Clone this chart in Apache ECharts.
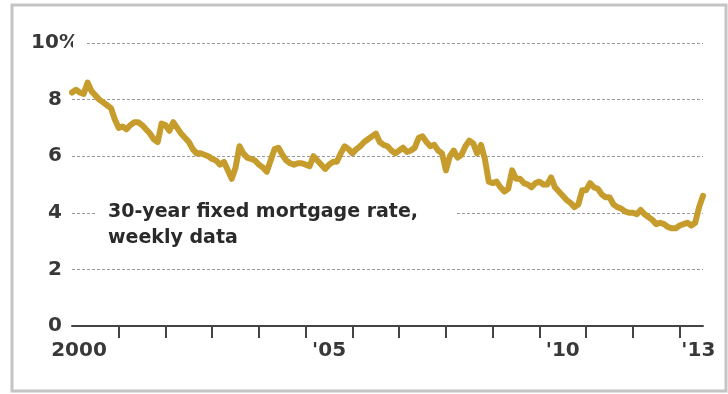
<!DOCTYPE html>
<html>
<head>
<meta charset="utf-8">
<script src="https://cdn.jsdelivr.net/npm/echarts@6/dist/echarts.min.js"></script>
<style>
html,body{margin:0;padding:0;background:#fff;}
#chart{width:728px;height:394px;}
</style>
</head>
<body>
<div id="chart"></div>
<script>
// Monthly readings of the 30-year fixed mortgage rate (%), Jan..Dec of each year
const years = [2000,2001,2002,2003,2004,2005,2006,2007,2008,2009,2010,2011,2012,2013];
const r2000 = [8.25,8.35,8.25,8.2,8.6,8.3,8.15,8.0,7.9,7.8,7.7,7.3];
const r2001 = [7.0,7.05,6.95,7.1,7.2,7.2,7.1,6.95,6.8,6.6,6.5,7.15];
const r2002 = [7.1,6.9,7.2,7.0,6.8,6.65,6.5,6.25,6.1,6.1,6.05,6.0];
const r2003 = [5.9,5.85,5.7,5.8,5.5,5.2,5.6,6.35,6.1,5.95,5.9,5.85];
const r2004 = [5.7,5.6,5.45,5.85,6.25,6.3,6.05,5.85,5.75,5.7,5.75,5.75];
const r2005 = [5.7,5.65,6.0,5.85,5.7,5.55,5.7,5.8,5.8,6.1,6.35,6.25];
const r2006 = [6.1,6.25,6.35,6.5,6.6,6.7,6.8,6.5,6.4,6.35,6.2,6.1];
const r2007 = [6.2,6.3,6.15,6.2,6.3,6.65,6.7,6.5,6.35,6.4,6.2,6.1];
const r2008 = [5.5,6.0,6.2,5.95,6.05,6.35,6.55,6.45,6.1,6.4,5.9,5.1];
const r2009 = [5.05,5.1,4.9,4.75,4.85,5.5,5.2,5.2,5.05,5.0,4.9,5.05];
const r2010 = [5.1,5.0,5.0,5.25,4.9,4.75,4.6,4.45,4.35,4.2,4.3,4.8];
const r2011 = [4.8,5.05,4.9,4.85,4.65,4.55,4.55,4.3,4.2,4.15,4.05,4.0];
const r2012 = [4.0,3.95,4.1,3.95,3.85,3.75,3.6,3.65,3.6,3.5,3.45,3.45];
const r2013 = [3.55,3.6,3.65,3.55,3.65,4.2,4.6];
const yearRates = [r2000,r2001,r2002,r2003,r2004,r2005,r2006,r2007,r2008,r2009,r2010,r2011,r2012,r2013];

const tickYears = [2001,2002,2003,2004,2005,2006,2007,2008,2009,2010,2011,2012,2013];
const xLabelPos = [2000.15, 2005.5, 2010.5, 2013.4];
const xLabelText = ["2000", "'05", "'10", "'13"];
const yTicks = [0,2,4,6,8,10];
const yTickText = ["0","2","4","6","8","10%"];
const annotationLines = ["30-year fixed mortgage rate,", "weekly data"];

const seriesData = [];
years.forEach((y, i) => {
  yearRates[i].forEach((v, m) => seriesData.push([y + m / 12, v]));
});

const chart = echarts.init(document.getElementById('chart'), null, {renderer: 'canvas'});
const font = '"DejaVu Sans", "Liberation Sans", sans-serif';
chart.setOption({
  animation: false,
  backgroundColor: '#fff',
  grid: {left: 72, right: 25, top: 43, bottom: 68},
  xAxis: {
    type: 'value', min: 2000, max: 2013.5,
    axisLine: {show: true, onZero: false, lineStyle: {color: '#444', width: 2}},
    axisTick: {show: true, customValues: tickYears, length: 12, lineStyle: {color: '#444', width: 2}},
    axisLabel: {
      customValues: xLabelPos,
      formatter: v => { const i = xLabelPos.findIndex(p => Math.abs(p - v) < 1e-6); return i >= 0 ? xLabelText[i] : ''; },
      fontSize: 20, fontWeight: 'bold', color: '#383838', fontFamily: font, margin: 15
    },
    splitLine: {show: false}
  },
  yAxis: {
    type: 'value', min: 0, max: 10, interval: 2,
    axisLine: {show: false}, axisTick: {show: false},
    axisLabel: {
      formatter: v => { const i = yTicks.indexOf(v); return i >= 0 ? yTickText[i] : ''; },
      align: 'center', margin: 17, fontSize: 20, fontWeight: 'bold', color: '#383838', fontFamily: font
    },
    splitLine: {show: true, lineStyle: {color: '#9a9a9a', width: 1, type: [3, 2]}}
  },
  series: [{
    type: 'line', data: seriesData, showSymbol: false, z: 5,
    lineStyle: {color: '#c69c2d', width: 6, join: 'round', cap: 'round'}
  }],
  graphic: [
    {type: 'rect', shape: {x: 12, y: 5, width: 714, height: 386}, style: {fill: null, stroke: '#c4c4c4', lineWidth: 3}, z: 1},
    {type: 'rect', shape: {x: 73, y: 37, width: 13, height: 12}, style: {fill: '#fff'}, z: 2},
    {type: 'rect', shape: {x: 96, y: 198, width: 360, height: 54}, style: {fill: '#fff'}, z: 2},
    {type: 'text', x: 108, y: 199, z: 3,
      style: {text: annotationLines.join('\n'), font: 'bold 19px "DejaVu Sans", sans-serif', fill: '#2a2a2a', lineHeight: 26}}
  ]
});
</script>
</body>
</html>
